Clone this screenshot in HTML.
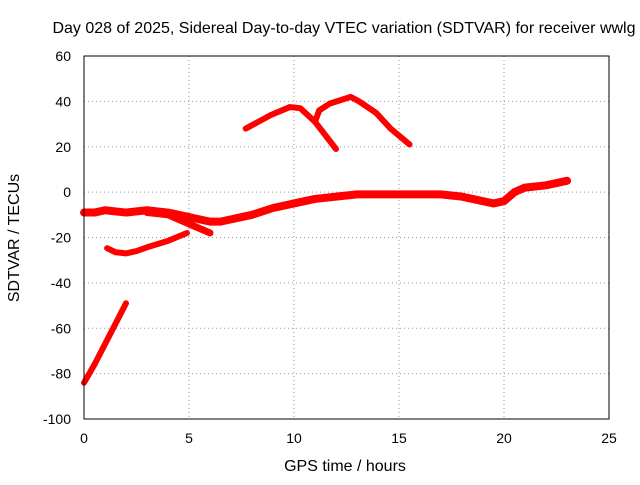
<!DOCTYPE html>
<html><head><meta charset="utf-8"><style>
body{margin:0;background:#fff;font-family:"Liberation Sans",sans-serif}
svg text{font-family:"Liberation Sans",sans-serif;font-size:14px;fill:#000}
svg text.big{font-size:16px}
</style></head><body>
<svg id="c" width="640" height="480">
<text class="big" x="344" y="33" text-anchor="middle">Day 028 of 2025, Sidereal Day-to-day VTEC variation (SDTVAR) for receiver wwlg</text>
<text class="big" x="345" y="471" text-anchor="middle">GPS time / hours</text>
<text class="big" transform="translate(19,238) rotate(-90)" text-anchor="middle">SDTVAR / TECUs</text>
<g id="grid"></g><g id="ticks"></g><g id="series"></g>
<rect x="84" y="56" width="525" height="363" fill="none" stroke="#000"/>
</svg>
<script>
const xTicks=[0,5,10,15,20,25];
const yTicks=[60,40,20,0,-20,-40,-60,-80,-100];
const mainX=[0,0.5,1,2,3,4,5,5.5,6,6.5,7,7.5,8,9,10,11,12,13,14,15,16,17,18,19,19.5,20,20.5,21,22,23];
const mainY=[-9,-9,-8,-9,-8,-9,-11,-12,-13,-13,-12,-11,-10,-7,-5,-3,-2,-1,-1,-1,-1,-1,-2,-4,-5,-4,0,2,3,5];
const branchX=[3,4,5,5.5,6];
const branchY=[-9,-10,-14,-16,-18];
const lowX=[1.1,1.5,2,2.5,3.1,4,4.9];
const lowY=[-24.7,-26.5,-27,-26,-24,-21.5,-18];
const steepX=[0,0.5,1,1.5,2];
const steepY=[-84,-76,-67,-58,-49];
const arc1X=[7.7,8.9,9.8,10.3,11,12];
const arc1Y=[28,34,37.5,37,31,19];
const arc2X=[11,11.2,11.7,12.7,13.1,13.9,14.6,15.5];
const arc2Y=[31,36,39,42,40,35,28,21];
const X=v=>84+v*21, Y=v=>56+(60-v)*363/160;
const NS="http://www.w3.org/2000/svg";
function mk(t,a,p){const e=document.createElementNS(NS,t);for(const k in a)e.setAttribute(k,a[k]);p.appendChild(e);return e;}
const g=document.getElementById('grid'),tk=document.getElementById('ticks'),s=document.getElementById('series');
xTicks.forEach(v=>{
 if(v>0&&v<25){const l=mk('line',{x1:X(v),x2:X(v),y1:56,y2:419,stroke:'#999','stroke-dasharray':'1,3'},g);
 }
 const t=mk('text',{x:X(v),y:443,'text-anchor':'middle'},tk);t.textContent=v;
 
});
yTicks.forEach(v=>{
 if(v<60&&v>-100){const l=mk('line',{x1:84,x2:609,y1:Y(v),y2:Y(v),stroke:'#999','stroke-dasharray':'1,3'},g);
 }
 const t=mk('text',{x:71,y:Y(v)+5,'text-anchor':'end'},tk);t.textContent=v;
 
});
[[mainX,mainY,'main-series',8],[branchX,branchY,'branch-series',7],[lowX,lowY,'low-series',6],[steepX,steepY,'steep-series',6],[arc1X,arc1Y,'arc1-series',6],[arc2X,arc2Y,'arc2-series',6]].forEach(([xs,ys,n,w])=>{
 const p=mk('polyline',{points:xs.map((x,i)=>X(x)+','+Y(ys[i])).join(' '),fill:'none',stroke:'#f00','stroke-width':w,'stroke-linejoin':'round','stroke-linecap':'round'},s);
 
 
});
</script>
</body></html>
